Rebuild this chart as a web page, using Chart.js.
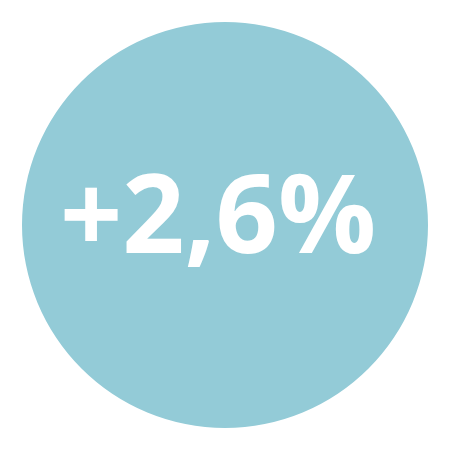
<!DOCTYPE html>
<html>
<head>
<meta charset="utf-8">
<script src="https://cdn.jsdelivr.net/npm/chart.js@4/dist/chart.umd.min.js"></script>
<style>
  html, body { margin: 0; padding: 0; background: #fff; }
  #wrap { width: 450px; height: 450px; }
</style>
</head>
<body>
<div id="wrap"><canvas id="c" width="450" height="450"></canvas></div>
<script>
var labels = ['Change'];
var values = [1];
var centerText = '+2,6%';

// draws the big figure in the middle of the disc
var centerLabel = {
  id: 'centerLabel',
  afterDraw: function(chart) {
    var ctx = chart.ctx;
    var arc = chart.getDatasetMeta(0).data[0];
    ctx.save();
    ctx.fillStyle = '#ffffff';
    ctx.font = 'bold 109px "Open Sans"';
    ctx.textAlign = 'center';
    ctx.textBaseline = 'alphabetic';
    ctx.fillText(centerText, arc.x - 7, arc.y + 28);
    ctx.restore();
  }
};

new Chart(document.getElementById('c'), {
  type: 'pie',
  data: {
    labels: labels,
    datasets: [{
      data: values,
      backgroundColor: ['#93cbd7'],
      borderWidth: 0
    }]
  },
  options: {
    responsive: false,
    animation: false,
    layout: { padding: 22 },
    plugins: {
      legend: { display: false },
      tooltip: { enabled: false }
    }
  },
  plugins: [centerLabel]
});
</script>
</body>
</html>
